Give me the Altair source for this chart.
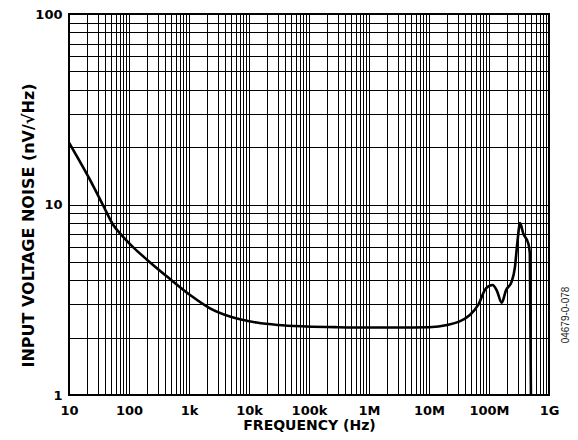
import altair as alt
import pandas as pd

# Curve (frequency in Hz, noise in nV/sqrt(Hz))
freq = [10, 25.4, 37.3, 54.7, 80.4, 118, 197, 425, 1040, 2240, 4800, 13.4e3, 30e3, 91e3,
        300e3, 1.16e6, 3e6, 10e6, 20e6, 48e6, 66e6, 89e6, 115e6, 134e6, 163e6, 192e6,
        238e6, 271e6, 296e6, 329e6, 373e6, 452e6, 480e6, 500e6]
noise = [21.1, 12.5, 9.85, 7.8, 6.75, 5.96, 5.15, 4.2, 3.35, 2.85, 2.58, 2.40, 2.33, 2.29,
         2.27, 2.26, 2.26, 2.27, 2.33, 2.63, 2.97, 3.63, 3.78, 3.55, 3.05, 3.55, 3.93,
         4.71, 6.24, 7.98, 7.03, 6.24, 5.53, 1.0]

x_decades = [10, 100, 1000, 1e4, 1e5, 1e6, 1e7, 1e8, 1e9]
x_labels = ["10", "100", "1k", "10k", "100k", "1M", "10M", "100M", "1G"]
y_decades = [1, 10, 100]
y_labels = ["1", "10", "100"]
fig_code = "04679-0-078"

x_grid = []
for d in x_decades[:-1]:
    for k in range(1, 10):
        x_grid.append(d * k)
x_grid.append(x_decades[-1])
y_grid = []
for d in y_decades[:-1]:
    for k in range(1, 10):
        y_grid.append(d * k)
y_grid.append(y_decades[-1])

def label_expr(vals, labs):
    e = "''"
    for v, l in reversed(list(zip(vals, labs))):
        e = f"datum.value=={v:g}?'{l}':({e})"
    return e

df = pd.DataFrame({"f": freq, "v": noise})
FONT = "DejaVu Sans"

base = alt.Chart(df)
line = base.mark_line(color="black", strokeWidth=2.6, interpolate="monotone", clip=True).encode(
    x=alt.X("f:Q", scale=alt.Scale(type="log", domain=[10, 1e9], nice=False),
            axis=alt.Axis(values=x_grid, labelExpr=label_expr(x_decades, x_labels),
                          title="FREQUENCY (Hz)", grid=True, gridColor="black", gridWidth=1,
                          gridOpacity=1, ticks=False, domain=False,
                          labelFont=FONT, labelFontWeight="bold", labelFontSize=13,
                          labelColor="black", labelPadding=9, labelOverlap=False,
                          labelFlush=False,
                          titleFont=FONT, titleFontWeight="bold", titleFontSize=14,
                          titleColor="black", titleBaseline="alphabetic", titleY=34)),
    y=alt.Y("v:Q", scale=alt.Scale(type="log", domain=[1, 100], nice=False),
            axis=alt.Axis(values=y_grid, labelExpr=label_expr(y_decades, y_labels),
                          title="INPUT VOLTAGE NOISE (nV/√Hz)", grid=True, gridColor="black",
                          gridWidth=1, gridOpacity=1, ticks=False, domain=False,
                          labelFont=FONT, labelFontWeight="bold", labelFontSize=13,
                          labelColor="black", labelPadding=7, labelOverlap=False,
                          labelFlush=False,
                          titleFont=FONT, titleFontWeight="bold", titleFontSize=16,
                          titleColor="black", titleBaseline="alphabetic", titleX=-36,
                          titleY=211, titleAngle=270, titleAlign="center")),
)

code = alt.Chart(pd.DataFrame({"t": [fig_code]})).mark_text(
    angle=270, font="Liberation Sans", fontSize=10, color="#222", align="center", baseline="middle"
).encode(x=alt.value(497), y=alt.value(301), text="t:N")

chart = alt.layer(line, code).properties(
    width=480, height=381, autosize="none",
    padding={"left": 61, "top": 6, "right": 21, "bottom": 37}
).configure_view(stroke="black", strokeWidth=2)

chart.save("out.html", embed_options={"renderer": "svg", "actions": False})
